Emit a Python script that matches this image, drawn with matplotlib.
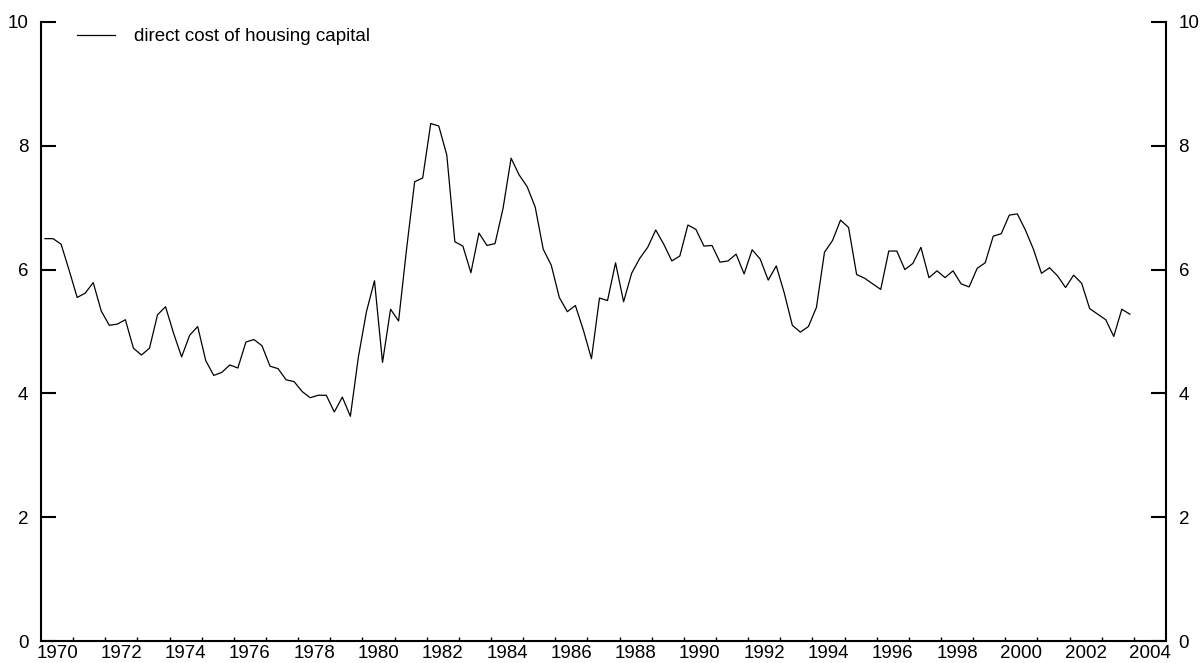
import numpy as np
import matplotlib
matplotlib.use("Agg")
import matplotlib.pyplot as plt
from matplotlib.ticker import FixedLocator, NullFormatter

plt.rcParams['font.family'] = ['Liberation Sans', 'DejaVu Sans']

# quarterly series, 1970Q1 .. 2003Q4
start_year = 1970
cost = [6.50, 6.50, 6.41, 5.99, 5.55, 5.62, 5.79, 5.33, 5.10, 5.12, 5.19, 4.73,
        4.62, 4.73, 5.27, 5.40, 4.97, 4.59, 4.94, 5.08, 4.53, 4.29, 4.34, 4.46,
        4.41, 4.83, 4.87, 4.77,
        4.44, 4.40, 4.22, 4.19, 4.03, 3.93, 3.97, 3.97, 3.70, 3.94, 3.63, 4.59,
        5.32, 5.82, 4.50, 5.36, 5.17, 6.34, 7.42, 7.48, 8.36, 8.32, 7.85, 6.45,
        6.38, 5.95, 6.59,
        6.39, 6.42, 6.99, 7.80, 7.53, 7.34, 7.01, 6.33, 6.07, 5.55, 5.32, 5.42,
        5.02, 4.56, 5.54, 5.50, 6.11, 5.48, 5.94, 6.18, 6.36, 6.64, 6.41, 6.14,
        6.22, 6.72,
        6.65, 6.38, 6.39, 6.12, 6.14, 6.25, 5.93, 6.32, 6.17, 5.83, 6.06, 5.62,
        5.10, 4.99, 5.08, 5.39, 6.28, 6.47, 6.80, 6.68, 5.92, 5.86, 5.77, 5.68,
        6.30, 6.30, 6.00,
        6.10, 6.36, 5.87, 5.98, 5.87, 5.98, 5.77, 5.72, 6.02, 6.11, 6.54, 6.58,
        6.88, 6.90, 6.64, 6.33, 5.94, 6.03, 5.90, 5.71, 5.91, 5.78, 5.37, 5.28,
        5.19, 4.92, 5.36, 5.28]
label_years = list(range(1970, 2005, 2))
y_ticks = [0, 2, 4, 6, 8, 10]

t = start_year + 0.125 + 0.25 * np.arange(len(cost))  # mid-quarter

fig = plt.figure(figsize=(12.01, 6.63), dpi=100)
ax = fig.add_axes([41/1201, 22/663, 1125/1201, 619/663])

ax.plot(t, cost, color='black', lw=0.9, label='direct cost of housing capital')

ax.set_xlim(1970, 2005)
ax.set_ylim(0, 10)

# year boundaries get small ticks, labels sit in the middle of even years
ax.xaxis.set_major_locator(FixedLocator(range(1971, 2005)))
ax.xaxis.set_major_formatter(NullFormatter())
ax.xaxis.set_minor_locator(FixedLocator([y + 0.5 for y in label_years]))
ax.set_xticklabels([str(y) for y in label_years], minor=True)
ax.tick_params(axis='x', which='major', direction='in', length=3, width=1)
ax.tick_params(axis='x', which='minor', length=0, pad=3, labelsize=13.5)

ax.set_yticks(y_ticks)
ax.tick_params(axis='y', direction='in', length=11, width=1.5,
               left=True, right=True, labelleft=True, labelright=True,
               pad=9, labelsize=13.5)

for side in ['left', 'right', 'bottom']:
    ax.spines[side].set_linewidth(1.5)
ax.spines['top'].set_visible(False)

ax.legend(loc='upper left', bbox_to_anchor=(0.032, 0.99), frameon=False,
          borderpad=0, borderaxespad=0, handlelength=2.0, handletextpad=1.05,
          fontsize=13.5)

plt.savefig('out.png', dpi=100)
